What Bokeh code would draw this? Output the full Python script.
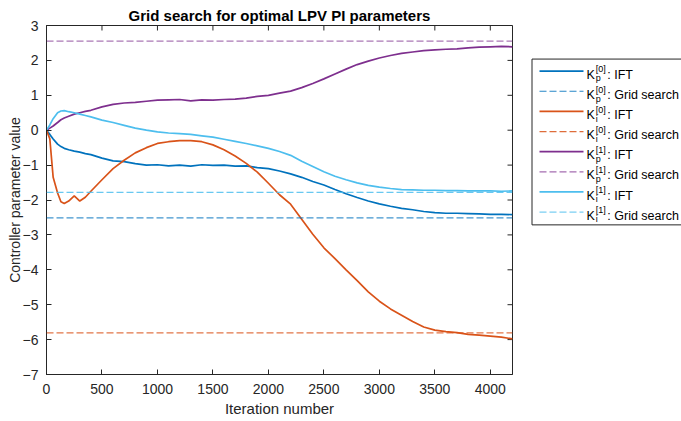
from bokeh.plotting import figure
from bokeh.models import Range1d, FixedTicker, Span
from bokeh.layouts import row
from bokeh.embed import file_html
from bokeh.resources import INLINE
from bokeh.core.properties import value

# ---------------- data ----------------
iters = [0, 30, 60, 100, 130, 160, 200, 250, 300, 350, 400, 500, 600, 700, 800,
         900, 1000, 1100, 1200, 1300, 1400, 1500, 1600, 1700, 1800, 1900, 2000,
         2100, 2200, 2300, 2400, 2500, 2600, 2700, 2800, 2900, 3000, 3100, 3200,
         3300, 3400, 3500, 3600, 3700, 3800, 3900, 4000, 4100, 4200]

kp0_ift = [0, -0.12, -0.25, -0.40, -0.47, -0.52, -0.56, -0.60, -0.63, -0.67, -0.70,
           -0.80, -0.88, -0.90, -0.96, -1.00, -0.99, -1.02, -1.00, -1.03, -0.99,
           -1.01, -1.00, -1.03, -1.02, -1.07, -1.10, -1.17, -1.25, -1.35, -1.47,
           -1.57, -1.70, -1.82, -1.93, -2.03, -2.11, -2.18, -2.24, -2.28, -2.33,
           -2.36, -2.38, -2.38, -2.39, -2.40, -2.41, -2.41, -2.42]

ki0_ift = [0, -0.25, -1.35, -1.80, -2.05, -2.10, -2.03, -1.88, -2.03, -1.92, -1.75,
           -1.42, -1.10, -0.86, -0.65, -0.50, -0.38, -0.33, -0.30, -0.30, -0.33,
           -0.42, -0.56, -0.74, -0.95, -1.20, -1.52, -1.85, -2.12, -2.55, -2.98,
           -3.37, -3.68, -4.00, -4.31, -4.63, -4.90, -5.12, -5.30, -5.48, -5.64,
           -5.73, -5.77, -5.80, -5.85, -5.87, -5.90, -5.93, -5.98]

kp1_ift = [0, 0.06, 0.12, 0.22, 0.30, 0.35, 0.40, 0.46, 0.50, 0.54, 0.57,
           0.67, 0.74, 0.78, 0.80, 0.83, 0.86, 0.87, 0.88, 0.84, 0.87,
           0.86, 0.88, 0.89, 0.92, 0.97, 1.00, 1.06, 1.12, 1.22, 1.34,
           1.47, 1.61, 1.75, 1.88, 1.98, 2.07, 2.14, 2.20, 2.24, 2.28,
           2.30, 2.32, 2.33, 2.36, 2.38, 2.39, 2.40, 2.39]

ki1_ift = [0, 0.15, 0.33, 0.50, 0.55, 0.56, 0.53, 0.50, 0.46, 0.42, 0.38,
           0.29, 0.22, 0.14, 0.06, 0.00, -0.05, -0.08, -0.10, -0.12, -0.16,
           -0.20, -0.26, -0.32, -0.38, -0.45, -0.52, -0.61, -0.72, -0.89, -1.04,
           -1.19, -1.32, -1.42, -1.51, -1.58, -1.63, -1.67, -1.70, -1.71, -1.72,
           -1.72, -1.73, -1.73, -1.74, -1.74, -1.74, -1.75, -1.74]

kp0_grid = -2.51
ki0_grid = -5.81
kp1_grid = 2.55
ki1_grid = -1.78

x_min, x_max = 0, 4200
y_min, y_max = -7, 3
x_ticks = [0, 500, 1000, 1500, 2000, 2500, 3000, 3500, 4000]
y_ticks = [-7, -6, -5, -4, -3, -2, -1, 0, 1, 2, 3]

title_text = "Grid search for optimal LPV PI parameters"
x_label = "Iteration number"
y_label = "Controller parameter value"

leg_subs = ["p", "p", "i", "i", "p", "p", "i", "i"]
leg_sups = ["[0]", "[0]", "[0]", "[0]", "[1]", "[1]", "[1]", "[1]"]
leg_suffix = [": IFT", ": Grid search"] * 4

# ---------------- styling ----------------
C_KP0 = "#0072BD"
C_KI0 = "#D95319"
C_KP1 = "#7E2F8E"
C_KI1 = "#4DBEEE"
AX = "#262626"
FONT = "Liberation Sans"
DASH = "7 3"

MAIN_W, H = 527, 421
BL, BR, BT, BB = 46, 15, 25, 47
FRAME_W = MAIN_W - BL - BR
FRAME_H = H - BT - BB
TICK_PX = 5

p = figure(width=MAIN_W, height=H, x_range=Range1d(x_min, x_max), y_range=Range1d(y_min, y_max),
           output_backend="svg", toolbar_location=None,
           min_border_left=BL, min_border_right=BR, min_border_top=BT, min_border_bottom=BB)
p.xgrid.visible = False
p.ygrid.visible = False
p.outline_line_color = AX
p.outline_line_width = 1

p.title.text = title_text
p.title.align = "center"
p.title.text_font = FONT
p.title.text_font_size = "15px"
p.title.text_font_style = "bold"
p.title.text_color = "#000000"
p.title.standoff = 4

def style_axis(ax, ticks, label_size):
    ax.ticker = FixedTicker(ticks=ticks)
    ax.major_tick_in = TICK_PX
    ax.major_tick_out = 0
    ax.minor_tick_in = 0
    ax.minor_tick_out = 0
    ax.axis_line_color = AX
    ax.major_tick_line_color = AX
    ax.major_label_text_color = AX
    ax.major_label_text_font = FONT
    ax.major_label_text_font_size = "14px"
    ax.axis_label_text_font = FONT
    ax.axis_label_text_font_size = label_size
    ax.axis_label_text_font_style = "normal"
    ax.axis_label_text_color = AX

style_axis(p.xaxis[0], x_ticks, "15px")
style_axis(p.yaxis[0], y_ticks, "14px")
p.xaxis[0].axis_label = x_label
p.yaxis[0].axis_label = y_label
p.xaxis[0].major_label_standoff = 9
p.yaxis[0].major_label_standoff = 8
p.xaxis[0].axis_label_standoff = 3
p.yaxis[0].axis_label_standoff = -3

# MATLAB-style box ticks on top and right edges (pointing inwards)
dy = TICK_PX * (y_max - y_min) / FRAME_H
dx = TICK_PX * (x_max - x_min) / FRAME_W
p.segment(x0=x_ticks, y0=[y_max] * len(x_ticks), x1=x_ticks, y1=[y_max - dy] * len(x_ticks),
          line_color=AX, line_width=1)
p.segment(x0=[x_max] * len(y_ticks), y0=y_ticks, x1=[x_max - dx] * len(y_ticks), y1=y_ticks,
          line_color=AX, line_width=1)

# grid-search references
for g, c, a in [(kp0_grid, C_KP0, 0.75), (ki0_grid, C_KI0, 0.8),
                (kp1_grid, C_KP1, 0.65), (ki1_grid, C_KI1, 0.85)]:
    p.add_layout(Span(location=g, dimension="width", line_color=c, line_alpha=a,
                      line_width=1.2, line_dash=DASH))

# IFT trajectories
for ys, c in [(kp0_ift, C_KP0), (ki0_ift, C_KI0), (kp1_ift, C_KP1), (ki1_ift, C_KI1)]:
    p.line(iters, ys, line_color=c, line_width=1.7)

# ---------------- legend (separate panel, pixel coordinates) ----------------
LW = 681 - MAIN_W
lg = figure(width=LW, height=H, x_range=Range1d(0, LW), y_range=Range1d(H, 0),
            output_backend="svg", toolbar_location=None, min_border=0)
lg.axis.visible = False
lg.grid.visible = False
lg.outline_line_color = None

lg.quad(left=[4.5], right=[400], top=[40.5], bottom=[240.5],
        fill_color="white", line_color=AX, line_width=1)

colors = [C_KP0, C_KP0, C_KI0, C_KI0, C_KP1, C_KP1, C_KI1, C_KI1]
alphas = [1, 0.85, 1, 0.85, 1, 0.7, 1, 0.75]
row_y = [55 + 24.3 * i for i in range(8)]
for i in range(8):
    dash = "solid" if i % 2 == 0 else DASH
    lg.segment(x0=[12], y0=[row_y[i]], x1=[56], y1=[row_y[i]], line_color=colors[i],
               line_alpha=alphas[i], line_width=1.7 if i % 2 == 0 else 1.2, line_dash=dash)

KX = 59
lg.text(x=[KX] * 8, y=[y + 4.4 for y in row_y], text=["K"] * 8,
        text_font=value(FONT), text_font_size="12.5px", text_color="#000000",
        text_baseline="alphabetic", text_align="left")
lg.text(x=[KX + 9.2] * 8, y=[y + 8.8 for y in row_y], text=leg_subs,
        text_font=value(FONT), text_font_size="9px", text_color="#000000",
        text_baseline="alphabetic", text_align="left")
lg.text(x=[KX + 9.2] * 8, y=[y - 2.0 for y in row_y], text=leg_sups,
        text_font=value(FONT), text_font_size="9px", text_color="#000000",
        text_baseline="alphabetic", text_align="left")
lg.text(x=[KX + 20.8] * 8, y=[y + 4.4 for y in row_y], text=leg_suffix,
        text_font=value(FONT), text_font_size="12.5px", text_color="#000000",
        text_baseline="alphabetic", text_align="left")

layout = row(p, lg, spacing=0)
open("out.html", "w").write(file_html(layout, INLINE))
